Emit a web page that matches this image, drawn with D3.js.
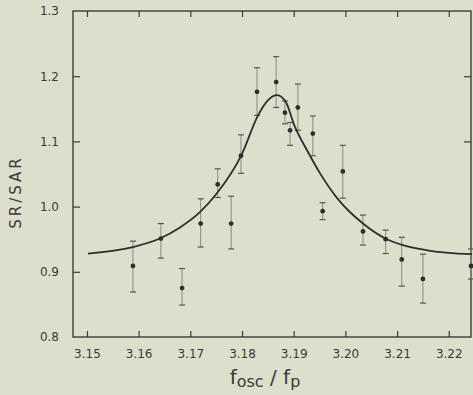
<!DOCTYPE html>
<html>
<head>
<meta charset="utf-8">
<script src="https://cdn.jsdelivr.net/npm/d3@7"></script>
<style>
  body { margin: 0; background: #dcdfcb; }
  svg { display: block; }
  text { font-family: "DejaVu Sans", sans-serif; fill: #3a3a3a; }
</style>
</head>
<body>
<div id="chart"></div>
<script>
// measured points (x = fosc/fp, y = SR/SAR, lo/hi = error bar ends)
var ptX  = [3.1589, 3.1643, 3.1684, 3.1720, 3.1753, 3.1779, 3.1798, 3.1829, 3.1866, 3.1883, 3.1893, 3.1908, 3.1937, 3.1956, 3.1995, 3.2034, 3.2078, 3.2109, 3.2150, 3.2243];
var ptY  = [0.909, 0.951, 0.875, 0.974, 1.034, 0.974, 1.078, 1.176, 1.191, 1.144, 1.117, 1.152, 1.112, 0.993, 1.054, 0.962, 0.950, 0.919, 0.889, 0.909];
var ptLo = [0.869, 0.921, 0.849, 0.938, 1.014, 0.935, 1.051, 1.140, 1.152, 1.127, 1.094, 1.117, 1.078, 0.980, 1.013, 0.941, 0.928, 0.878, 0.852, 0.889];
var ptHi = [0.947, 0.974, 0.905, 1.012, 1.058, 1.016, 1.110, 1.213, 1.230, 1.162, 1.129, 1.188, 1.139, 1.006, 1.094, 0.987, 0.964, 0.953, 0.927, 0.935];

// fitted curve
var fitX = [3.1502, 3.1589, 3.1641, 3.1680, 3.1718, 3.1751, 3.1800, 3.1831, 3.1850, 3.1868, 3.1885, 3.1902, 3.1926, 3.1951, 3.1984, 3.2034, 3.2080, 3.2111, 3.2158, 3.2245];
var fitY = [0.928, 0.938, 0.951, 0.968, 0.991, 1.020, 1.081, 1.140, 1.163, 1.171, 1.160, 1.123, 1.086, 1.051, 1.013, 0.974, 0.950, 0.941, 0.933, 0.927];

var xTicks = [3.15, 3.16, 3.17, 3.18, 3.19, 3.20, 3.21, 3.22];
var xTickLabels = ["3.15", "3.16", "3.17", "3.18", "3.19", "3.20", "3.21", "3.22"];
var yTicks = [0.8, 0.9, 1.0, 1.1, 1.2, 1.3];
var yTickLabels = ["0.8", "0.9", "1.0", "1.1", "1.2", "1.3"];

var width = 473, height = 395;
var m = { left: 73, right: 471, top: 11, bottom: 337 };

var x = d3.scaleLinear().domain([3.1473, 3.2243]).range([m.left, m.right]);
var y = d3.scaleLinear().domain([0.8, 1.3]).range([m.bottom, m.top]);

var svg = d3.select("#chart").append("svg")
  .attr("width", width).attr("height", height);

// frame
svg.append("rect")
  .attr("x", m.left).attr("y", m.top)
  .attr("width", m.right - m.left).attr("height", m.bottom - m.top)
  .attr("fill", "none").attr("stroke", "#3c3c3c").attr("stroke-width", 1.4);

// axes with inward ticks
var xAxis = d3.axisBottom(x).tickValues(xTicks).tickSize(-6)
  .tickFormat(function(d, i) { return xTickLabels[i]; }).tickPadding(12);
var gx = svg.append("g").attr("transform", "translate(0," + m.bottom + ")").call(xAxis);
gx.select(".domain").remove();
gx.selectAll("line").attr("stroke", "#3c3c3c").attr("stroke-width", 1.2);
gx.selectAll("text").attr("font-size", 12).attr("fill", "#3a3a3a");

var xTop = d3.axisTop(x).tickValues(xTicks).tickSize(-6).tickFormat("");
var gxt = svg.append("g").attr("transform", "translate(0," + m.top + ")").call(xTop);
gxt.select(".domain").remove();
gxt.selectAll("line").attr("stroke", "#3c3c3c").attr("stroke-width", 1.2);

var yAxis = d3.axisLeft(y).tickValues(yTicks).tickSize(-7)
  .tickFormat(function(d, i) { return yTickLabels[i]; }).tickPadding(14);
var gy = svg.append("g").attr("transform", "translate(" + m.left + ",0)").call(yAxis);
gy.select(".domain").remove();
gy.selectAll("line").attr("stroke", "#3c3c3c").attr("stroke-width", 1.2)
  .filter(function(d) { return d === 0.8 || d === 1.3; }).remove();
gy.selectAll("text").attr("font-size", 12).attr("fill", "#3a3a3a");

var yRight = d3.axisRight(y).tickValues([1.1, 1.2]).tickSize(-7).tickFormat("");
var gyr = svg.append("g").attr("transform", "translate(" + m.right + ",0)").call(yRight);
gyr.select(".domain").remove();
gyr.selectAll("line").attr("stroke", "#3c3c3c").attr("stroke-width", 1.2);

// error bars
var pts = ptX.map(function(v, i) { return { x: v, y: ptY[i], lo: ptLo[i], hi: ptHi[i] }; });
var eb = svg.append("g").selectAll("g").data(pts).enter().append("g");
eb.append("line")
  .attr("x1", function(d) { return x(d.x); }).attr("x2", function(d) { return x(d.x); })
  .attr("y1", function(d) { return y(d.lo); }).attr("y2", function(d) { return y(d.hi); })
  .attr("stroke", "#8a8a80").attr("stroke-width", 1);
["lo", "hi"].forEach(function(k) {
  eb.append("line")
    .attr("x1", function(d) { return x(d.x) - 3; }).attr("x2", function(d) { return x(d.x) + 3; })
    .attr("y1", function(d) { return y(d[k]); }).attr("y2", function(d) { return y(d[k]); })
    .attr("stroke", "#555").attr("stroke-width", 1.2);
});

// curve
var fit = fitX.map(function(v, i) { return [v, fitY[i]]; });
svg.append("path")
  .datum(fit)
  .attr("d", d3.line().x(function(d) { return x(d[0]); }).y(function(d) { return y(d[1]); })
    .curve(d3.curveMonotoneX))
  .attr("fill", "none").attr("stroke", "#2e2e2e").attr("stroke-width", 1.8);

// dots
svg.append("g").selectAll("circle").data(pts).enter().append("circle")
  .attr("cx", function(d) { return x(d.x); })
  .attr("cy", function(d) { return y(d.y); })
  .attr("r", 2.4).attr("fill", "#2e2e2e");

// axis titles
var xt = svg.append("text").attr("x", 265).attr("y", 384)
  .attr("text-anchor", "middle").attr("font-size", 20);
xt.append("tspan").text("f");
xt.append("tspan").attr("font-size", 16).attr("dy", 3).text("osc");
xt.append("tspan").attr("dy", -3).text(" / f");
xt.append("tspan").attr("font-size", 16).attr("dy", 3).text("p");

svg.append("text")
  .attr("transform", "translate(21,192) rotate(-90)")
  .attr("text-anchor", "middle").attr("font-size", 15)
  .attr("letter-spacing", 3)
  .text("SR/SAR");
</script>
</body>
</html>
